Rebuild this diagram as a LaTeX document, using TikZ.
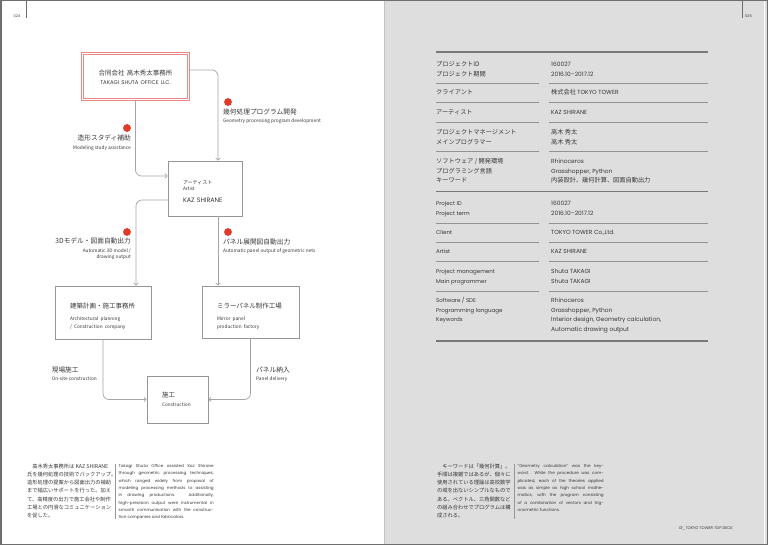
\documentclass[tikz,border=0pt]{standalone}
\usepackage{fontspec}
\setmainfont{Poppins}
\newfontfamily\jp{Noto Sans CJK JP}
\usetikzlibrary{arrows.meta}

\definecolor{ink}{RGB}{55,55,55}
\definecolor{dotred}{RGB}{226,58,42}
\definecolor{redline}{RGB}{236,135,135}
\definecolor{boxgray}{RGB}{150,150,150}
\definecolor{wire}{RGB}{165,165,165}
\definecolor{pagegray}{RGB}{222,222,222}
\definecolor{framegray}{RGB}{110,110,110}
\definecolor{rulegray}{RGB}{120,120,120}

\newcommand{\ensmall}{\fontsize{4.75}{7}\selectfont}
\newcommand{\fillline}[2]{\makebox[#1][s]{#2}}

\tikzset{
  box/.style={draw=boxgray, line width=0.7pt, inner xsep=15pt, inner ysep=0pt,
    align=left, text=ink, font=\jp\fontsize{6.5}{7}\selectfont},
  conn/.style={draw=wire, line width=0.7pt, rounded corners=6pt,
    -{Straight Barb[length=2.2pt,width=4.6pt]}},
  reddot/.style={circle, fill=dotred, inner sep=0pt, minimum size=7.8pt},
  lbl/.style={inner sep=0pt, text=ink, font=\jp\fontsize{6.7}{8}\selectfont},
  tjp/.style={inner sep=0pt, anchor=base west, align=left, text=ink,
    font=\jp\fontsize{6.2}{9.6}\selectfont},
  ten/.style={inner sep=0pt, anchor=base west, align=left, text=ink,
    font=\fontsize{5.5}{9.7}\selectfont},
  tenval/.style={ten, font=\fontsize{5.9}{9.7}\selectfont},
  jppara/.style={inner sep=0pt, anchor=base west, align=left, text=ink,
    font=\jp\fontsize{5.25}{8.3}\selectfont},
  enpara/.style={inner sep=0pt, anchor=base west, align=left, text=ink,
    font=\fontsize{4.1}{7.3}\selectfont},
  folio/.style={inner sep=0pt, text=ink, font=\fontsize{3.6}{4}\selectfont}
}

\begin{document}
\begin{tikzpicture}[x=1pt,y=-1pt]
\useasboundingbox (0,0) rectangle (768,545);

% pages and frame
\fill[pagegray] (384,0) rectangle (768,545);
\draw[line width=1pt, color=pagegray!88!black] (384.5,0) -- (384.5,545);
\draw[white, line width=1pt] (764,0) -- (764,545);
\draw[framegray, line width=1.5pt] (0.75,0.75) rectangle (767.25,544.25);

% page numbers
\draw[framegray, line width=0.6pt] (26,0) -- (26,18);
\node[folio, anchor=base west] (pnleft) at (13.5,17.5) {024};
\draw[framegray, line width=0.6pt] (742,0) -- (742,18);
\node[folio, anchor=base west] (pnright) at (745,17.5) {025};

% boxes
\node[box, draw=redline, double, double distance=1.6pt, align=center,
  text width=76pt, minimum height=46pt, font=\jp\fontsize{6.5}{8}\selectfont]
  (office) at (135.5,76.5)
  {\rule{0pt}{7.5pt}合同会社 高木秀太事務所\\[0.5pt]%
   {\fontspec{Poppins}\fontsize{5.4}{7}\selectfont TAKAGI SHUTA OFFICE LLC.}};
\node[box, text width=44pt, minimum height=55pt] (artist) at (205,188.5)
  {\rule{0pt}{10.5pt}{\fontsize{5}{7}\selectfont アーティスト}\\[-1pt]{\ensmall Artist}\\[5pt]%
   {\fontspec{Poppins}\fontsize{6.4}{7}\selectfont KAZ SHIRANE}};
\node[box, text width=66pt, minimum height=53pt] (design) at (103,312.5)
  {\rule{0pt}{13.5pt}建築計画・施工事務所\\[5pt]{\ensmall Architectural planning}\\[1pt]%
   {\ensmall / Construction company}};
\node[box, text width=67pt, minimum height=52pt] (factory) at (250.5,312)
  {\rule{0pt}{13.5pt}ミラーパネル制作工場\\[5pt]{\ensmall Mirror panel}\\[1pt]%
   {\ensmall production factory}};
\node[box, text width=31pt, minimum height=47pt] (site) at (177.5,399.5)
  {施工\\[2.5pt]{\ensmall Construction}};

% connectors
\draw[conn] ([yshift=6.5pt]office.east) -| ([xshift=13pt]artist.north);
\draw[conn] (office.south) |- ([yshift=12.5pt]artist.west);
\draw[conn] ([yshift=-11.5pt]artist.west) -| ([xshift=33pt]design.north);
\draw[conn] ([xshift=13pt]artist.south) -- ([xshift=-32.5pt]factory.north);
\draw[conn] (design.south) |- (site.west);
\draw[conn] (factory.south) |- (site.east);

% red marks and labels (anchored on the last line)
\node[reddot] (dotgeo) at (228,102) {};
\node[reddot] (dotstudy) at (127,128) {};
\node[reddot] (dotmodel) at (127,232) {};
\node[reddot] (dotpanel) at (228,232) {};

\node[lbl, anchor=base west, align=left] (geolbl) at (223,122.5)
  {幾何処理プログラム開発\\{\ensmall Geometry processing program development}};
\node[lbl, anchor=base east, align=right] (studylbl) at (131,149.5)
  {造形スタディ補助\\[0.5pt]{\ensmall Modeling study assistance}};
\node[lbl, anchor=base east, align=right] (modellbl) at (131,259)
  {3Dモデル・図面自動出力\\[0.5pt]{\ensmall Automatic 3D model /}\\[-1.5pt]%
   {\ensmall drawing output}};
\node[lbl, anchor=base west, align=left] (panellbl) at (223,253)
  {パネル展開図自動出力\\[0.5pt]{\ensmall Automatic panel output of geometric nets}};
\node[lbl, anchor=base east, align=left] (onsitelbl) at (97,380.5)
  {現場施工\\[0.5pt]{\ensmall On-site construction}};
\node[lbl, anchor=base west, align=left] (deliverylbl) at (256,380.5)
  {パネル納入\\[0.5pt]{\ensmall Panel delivery}};

% notes, left page
\node[jppara] (noteleftjp) at (27,517.8)
  {　高木秀太事務所は KAZ SHIRANE\\氏を幾何処理の技術でバックアップ。\\%
   造形処理の提案から図面出力の補助\\まで幅広いサポートを行った。加え\\%
   て、高精度の出力で施工会社や制作\\工場との円滑なコミュニケーション\\を促した。};
\draw[boxgray, line width=0.5pt] (115,464) -- (115,519);
\node[enpara] (noteleften) at (118.5,518.6)
  {\fillline{95pt}{Takagi Shuta Office assisted Kaz Shirane}\\
   \fillline{95pt}{through geometric processing techniques,}\\
   \fillline{95pt}{which ranged widely from proposal of}\\
   \fillline{95pt}{modeling processing methods to assisting}\\
   \fillline{95pt}{in drawing productions. Additionally,}\\
   \fillline{95pt}{high-precision output were instrumental in}\\
   \fillline{95pt}{smooth communication with the construc-}\\
   tion companies and fabricators.};

% project table rules
\draw[rulegray, line width=1.5pt] (436,52) -- (708,52);
\foreach \y in {83,102.5,122,151,223,242,261.5,291} {
  \draw[rulegray!80, line width=0.6pt] (436,\y) -- (539,\y);
  \draw[rulegray!80, line width=0.6pt] (549,\y) -- (708,\y);
}
\draw[rulegray, line width=1.5pt] (436,191.5) -- (708,191.5);
\draw[rulegray, line width=1.5pt] (436,341) -- (708,341);

% project table, Japanese
\node[tjp] (jpidkey) at (436,76.1) {プロジェクトID\\プロジェクト期間};
\node[tenval] (jpidval) at (551,76.2) {160027\\2016.10–2017.12};
\node[tjp] (jpclientkey) at (436,94.5) {クライアント};
\node[tjp] (jpclientval) at (551,94.5) {株式会社 {\fontspec{Poppins}\fontsize{5.9}{9.7}\selectfont TOKYO TOWER}};
\node[tjp] (jpartistkey) at (436,114.5) {アーティスト};
\node[tenval] (jpartistval) at (551,114.5) {KAZ SHIRANE};
\node[tjp] (jppmkey) at (436,144.1) {プロジェクトマネージメント\\メインプログラマー};
\node[tjp] (jppmval) at (551,144.1) {高木 秀太\\高木 秀太};
\node[tjp] (jpswkey) at (436,182.7) {ソフトウェア / 開発環境\\プログラミング言語\\キーワード};
\node[tenval] (jpswval) at (551,173.2) {Rhinoceros\\Grasshopper, Python};
\node[tjp] (jpkwval) at (551,182.7) {内装設計、幾何計算、図面自動出力};

% project table, English
\node[ten] (enidkey) at (436,215.2) {Project ID\\Project term};
\node[tenval] (enidval) at (551,215.2) {160027\\2016.10–2017.12};
\node[ten] (enclientkey) at (436,234.5) {Client};
\node[tenval] (enclientval) at (551,234.5) {TOKYO TOWER Co.,Ltd.};
\node[ten] (enartistkey) at (436,254) {Artist};
\node[tenval] (enartistval) at (551,254) {KAZ SHIRANE};
\node[ten] (enpmkey) at (436,283.2) {Project management\\Main programmer};
\node[tenval] (enpmval) at (551,283.2) {Shuta TAKAGI\\Shuta TAKAGI};
\node[ten] (enswkey) at (436,321.9) {Software / SDE\\Programming language\\Keywords};
\node[tenval] (enswval) at (551,331.6) {Rhinoceros\\Grasshopper, Python\\%
  Interior design, Geometry calculation,\\Automatic drawing output};

% notes, right page
\node[jppara] (noterightjp) at (437,517.8)
  {　キーワードは「幾何計算」。\\手順は複雑ではあるが、個々に\\%
   使用されている理論は高校数学\\の域を出ないシンプルなもので\\%
   ある。ベクトル、三角関数など\\の組み合わせでプログラムは構\\成される。};
\draw[boxgray, line width=0.5pt] (514,464) -- (514,519);
\node[enpara] (noterighten) at (517.5,511.3)
  {\fillline{86pt}{“Geometry calculation” was the key-}\\
   \fillline{86pt}{word. While the procedure was com-}\\
   \fillline{86pt}{plicated, each of the theories applied}\\
   \fillline{86pt}{was as simple as high school mathe-}\\
   \fillline{86pt}{matics, with the program consisting}\\
   \fillline{86pt}{of a combination of vectors and trig-}\\
   onometric functions.};
\node[folio, anchor=base east, font=\fontsize{3.9}{4}\selectfont\itshape]
  (footer) at (733,529.5) {01\_TOKYO TOWER TOP DECK};
\end{tikzpicture}
\end{document}
